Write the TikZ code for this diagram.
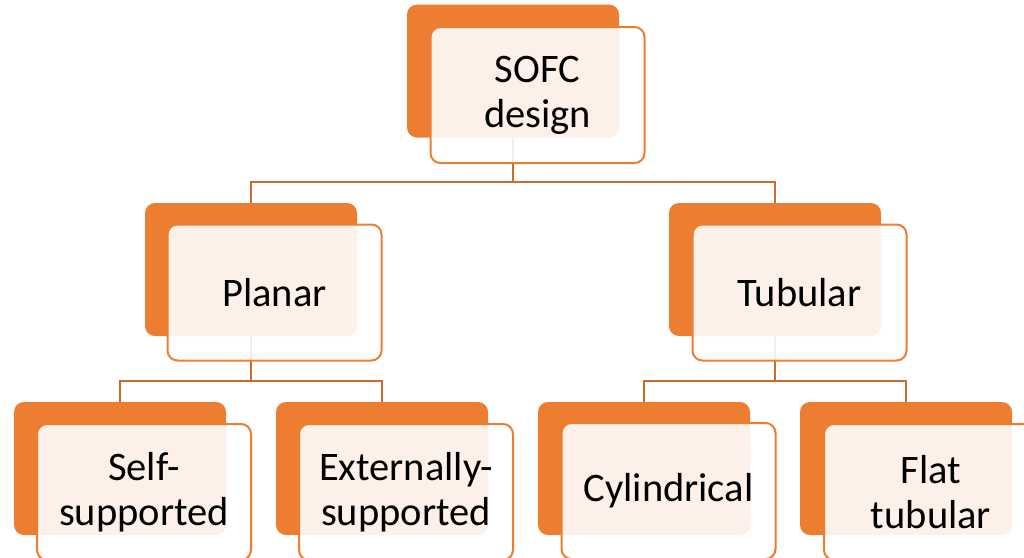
\documentclass[tikz,border=0pt]{standalone}
\usepackage{fontspec}
\setmainfont{Carlito}
\definecolor{acc}{HTML}{ED7D31}
\definecolor{lnk}{HTML}{D0692A}
\begin{document}
\begin{tikzpicture}[x=1pt,y=-1pt,
  backbox/.style={fill=acc, draw=none, rounded corners=10pt, minimum width=212pt, minimum height=133pt, inner sep=0pt},
  frontbox/.style={draw=acc, line width=2pt, fill=white, fill opacity=0.89, text opacity=1, rounded corners=10pt, minimum width=214pt, minimum height=136pt, inner sep=0pt, align=center, font=\fontsize{40.5}{45}\selectfont},
  link/.style={draw=lnk, line width=2pt}]
\clip (0,0) rectangle (1024,557);
\useasboundingbox (0,0) rectangle (1024,557);
% back boxes
\node[backbox] (sofcB) at (513,71) {};
\node[backbox] (planB) at (251,269.5) {};
\node[backbox] (tubB) at (775,269.5) {};
\node[backbox] (selfB) at (120,468.5) {};
\node[backbox] (extB) at (382,468.5) {};
\node[backbox] (cylB) at (644,468.5) {};
\node[backbox] (flatB) at (906,468.5) {};
% connectors
\coordinate (j1) at (513,182);
\coordinate (j2) at (251,381);
\coordinate (j3) at (775,381);
\draw[link] (sofcB.south) -- (j1) -| (planB.north);
\draw[link] (j1) -| (tubB.north);
\draw[link] (planB.south) -- (j2) -| (selfB.north);
\draw[link] (j2) -| (extB.north);
\draw[link] (tubB.south) -- (j3) -| (cylB.north);
\draw[link] (j3) -| (flatB.north);
% front boxes
\node[frontbox] (sofc) at (537.5,95) {SOFC\\design};
\node[frontbox] (plan) at (274.5,292.5) {Planar};
\node[frontbox] (tub) at (799.5,292.5) {Tubular};
\node[frontbox] (self) at (144,492) {Self-\\supported};
\node[frontbox] (ext) at (406,492) {Externally-\\supported};
\node[frontbox] (cyl) at (668.5,491) {Cylindrical};
\node[frontbox] (flat) at (931,492) {Flat\\tubular};
\end{tikzpicture}
\end{document}
